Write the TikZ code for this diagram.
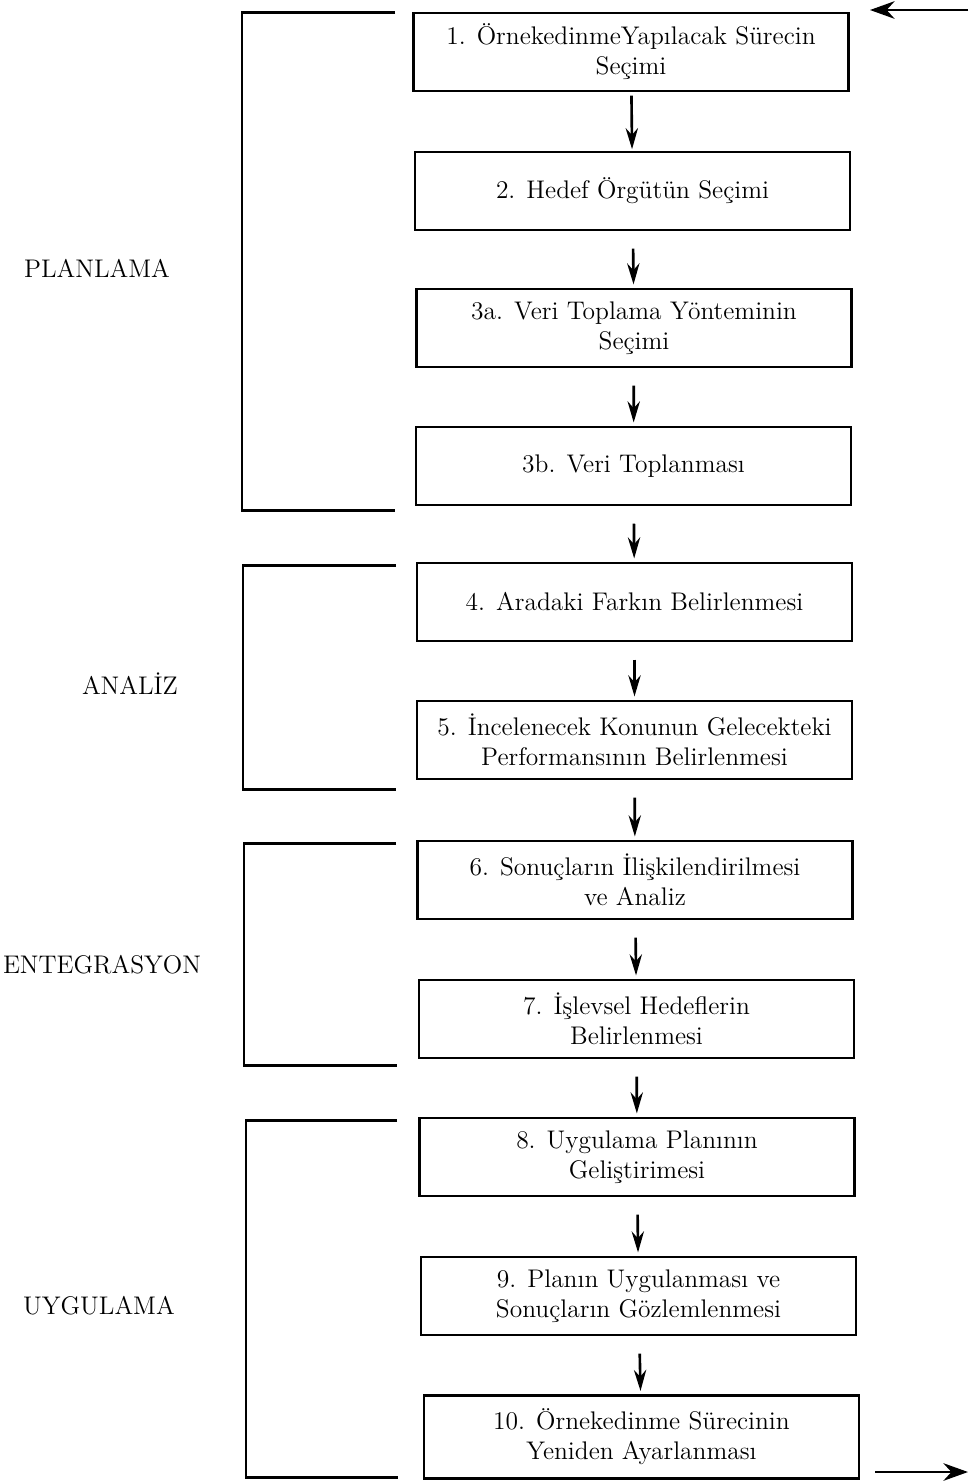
\documentclass[tikz,border=0pt]{standalone}
\usepackage{fontspec}
\usetikzlibrary{arrows.meta}

\tikzset{
	stagebox/.style={draw, line width=1.2pt, minimum width=8.7cm, minimum height=1.56cm,
		align=center, inner sep=2pt, font=\fontsize{14.5}{17}\selectfont},
	phase/.style={font=\fontsize{14.5}{17}\selectfont},
	bracket/.style={line width=1.7pt},
	flow/.style={line width=1.5pt, shorten <=10pt, shorten >=2pt, -{Stealth[length=12pt,width=7pt]}},
	loopflow/.style={line width=1.4pt, -{Stealth[length=14pt,width=10pt]}}
}

\begin{document}
\begin{tikzpicture}[x=0.02cm,y=-0.02cm]
		\useasboundingbox (0,0) rectangle (968,1482);
		% surec adimlari
		\node[stagebox] (s1) at (631,52) {1. ÖrnekedinmeYapılacak Sürecin\\Seçimi};
		\node[stagebox] (s2) at (632.5,191) {2. Hedef Örgütün Seçimi};
		\node[stagebox] (s3a) at (634,328) {3a. Veri Toplama Yönteminin\\Seçimi};
		\node[stagebox] (s3b) at (633.5,466) {3b. Veri Toplanması};
		\node[stagebox] (s4) at (634.5,602) {4. Aradaki Farkın Belirlenmesi};
		\node[stagebox, inner sep=0pt] (s5) at (634.5,740) {5. İncelenecek Konunun Gelecekteki\\Performansının Belirlenmesi};
		\node[stagebox] (s6) at (635,880) {6. Sonuçların İlişkilendirilmesi\\ve Analiz};
		\node[stagebox] (s7) at (636.5,1019) {7. İşlevsel Hedeflerin\\Belirlenmesi};
		\node[stagebox] (s8) at (637,1157) {8. Uygulama Planının\\Geliştirimesi};
		\node[stagebox] (s9) at (638.5,1296) {9. Planın Uygulanması ve\\Sonuçların Gözlemlenmesi};
		\node[stagebox, minimum height=1.66cm] (s10) at (641.5,1437) {10. Örnekedinme Sürecinin\\Yeniden Ayarlanması};
		% okler
		\draw[flow, shorten <=2pt, shorten >=1pt] (s1) -- (s2);
		\draw[flow] (s2) -- (s3a);
		\draw[flow] (s3a) -- (s3b);
		\draw[flow] (s3b) -- (s4);
		\draw[flow] (s4) -- (s5);
		\draw[flow] (s5) -- (s6);
		\draw[flow] (s6) -- (s7);
		\draw[flow] (s7) -- (s8);
		\draw[flow] (s8) -- (s9);
		\draw[flow] (s9) -- (s10);
		% giris / cikis
		\coordinate (inR) at (968,10);
		\coordinate (inL) at (870,10);
		\coordinate (outL) at (875,1472);
		\coordinate (outR) at (968,1472);
		\draw[loopflow] (inR) -- (inL);
		\draw[loopflow] (outL) -- (outR);
		% evreler
		\draw[bracket] (395,12) -| (242,510) -- (395,510);
		\draw[bracket] (396,565) -| (243,789) -- (396,789);
		\draw[bracket] (396,843) -| (244,1065) -- (397,1065);
		\draw[bracket] (397,1120) -| (246,1477) -- (398,1477);
		\node[phase] (planlama) at (97,268) {PLANLAMA};
		\node[phase] (analiz) at (130,684) {ANALİZ};
		\node[phase] (entegrasyon) at (102,965) {ENTEGRASYON};
		\node[phase] (uygulama) at (99,1306) {UYGULAMA};
	\end{tikzpicture}
\end{document}
